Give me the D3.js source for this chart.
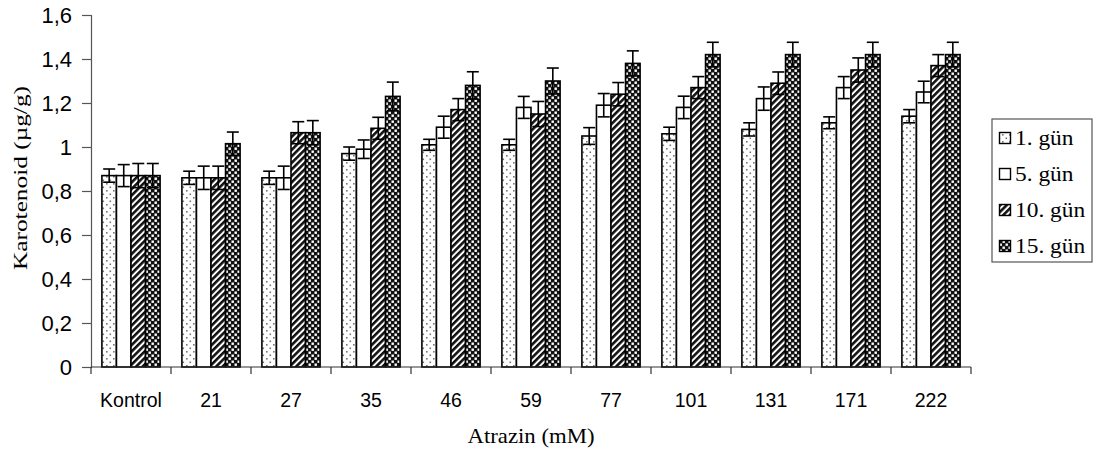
<!DOCTYPE html>
<html>
<head>
<meta charset="utf-8">
<script src="https://cdn.jsdelivr.net/npm/d3@7/dist/d3.min.js"></script>
<style>
  html, body { margin: 0; padding: 0; background: #fff; }
  svg { display: block; }
</style>
</head>
<body>
<svg id="chart" width="1103" height="462"></svg>
<script>
// Atrazin concentrations (mM)
const categories = ["Kontrol", "21", "27", "35", "46", "59", "77", "101", "131", "171", "222"];
const seriesNames = ["1. gün", "5. gün", "10. gün", "15. gün"];

// Karotenoid content (µg/g) per day
const day1  = [0.87, 0.86, 0.86, 0.97, 1.01, 1.01, 1.05, 1.06, 1.08, 1.11, 1.14];
const day5  = [0.87, 0.86, 0.86, 0.99, 1.09, 1.18, 1.19, 1.18, 1.22, 1.27, 1.25];
const day10 = [0.87, 0.86, 1.065, 1.085, 1.17, 1.15, 1.24, 1.27, 1.29, 1.35, 1.37];
const day15 = [0.87, 1.015, 1.065, 1.23, 1.28, 1.30, 1.38, 1.42, 1.42, 1.42, 1.42];

// Standard errors
const err1  = [0.03, 0.03, 0.03, 0.03, 0.025, 0.025, 0.038, 0.03, 0.03, 0.027, 0.03];
const err5  = [0.05, 0.053, 0.053, 0.042, 0.05, 0.05, 0.053, 0.051, 0.053, 0.05, 0.049];
const err10 = [0.055, 0.053, 0.05, 0.05, 0.05, 0.057, 0.053, 0.05, 0.051, 0.055, 0.05];
const err15 = [0.055, 0.053, 0.055, 0.065, 0.062, 0.059, 0.057, 0.056, 0.056, 0.056, 0.056];

const yTicks = [0, 0.2, 0.4, 0.6, 0.8, 1.0, 1.2, 1.4, 1.6];

const seriesValues = [day1, day5, day10, day15];
const seriesErrors = [err1, err5, err10, err15];
const fills = ["url(#dots)", "#ffffff", "url(#stripes)", "url(#checks)"];

const svg = d3.select("#chart");
const plot = { left: 91, right: 971, top: 15, bottom: 367 };
const sans = "'Liberation Sans', Arial, sans-serif";
const serif = "'Liberation Serif', 'Times New Roman', serif";

// Fill patterns
const defs = svg.append("defs");
const dots = defs.append("pattern").attr("id", "dots")
  .attr("patternUnits", "userSpaceOnUse").attr("width", 7).attr("height", 7);
dots.append("rect").attr("width", 7).attr("height", 7).attr("fill", "#fff");
dots.append("rect").attr("x", 1).attr("y", 1).attr("width", 1.6).attr("height", 1.6).attr("fill", "#777");
dots.append("rect").attr("x", 4.5).attr("y", 4.5).attr("width", 1.6).attr("height", 1.6).attr("fill", "#777");

const stripes = defs.append("pattern").attr("id", "stripes")
  .attr("patternUnits", "userSpaceOnUse").attr("width", 4.6).attr("height", 10)
  .attr("patternTransform", "rotate(45)");
stripes.append("rect").attr("width", 4.6).attr("height", 10).attr("fill", "#fff");
stripes.append("rect").attr("width", 2.6).attr("height", 10).attr("fill", "#111");

const checks = defs.append("pattern").attr("id", "checks")
  .attr("patternUnits", "userSpaceOnUse").attr("width", 6).attr("height", 6);
checks.append("rect").attr("width", 6).attr("height", 6).attr("fill", "#111");
checks.append("rect").attr("x", 0.5).attr("y", 0.5).attr("width", 2.4).attr("height", 2.4).attr("fill", "#fff");
checks.append("rect").attr("x", 3.5).attr("y", 3.5).attr("width", 2.4).attr("height", 2.4).attr("fill", "#fff");

// Scales
const x0 = d3.scaleBand().domain(categories).range([plot.left, plot.right]).padding(0);
const x1 = d3.scaleBand().domain(seriesNames).range([0, x0.bandwidth()])
  .paddingInner(0).paddingOuter(0.75);
const y = d3.scaleLinear().domain([0, 1.6]).range([plot.bottom, plot.top]);

// Bars
const groups = svg.append("g").selectAll("g")
  .data(categories).join("g")
  .attr("transform", d => `translate(${x0(d)},0)`);

groups.each(function(cat, ci) {
  const g = d3.select(this);
  seriesNames.forEach((s, si) => {
    const v = seriesValues[si][ci];
    g.append("rect")
      .attr("x", x1(s))
      .attr("y", y(v))
      .attr("width", x1.bandwidth())
      .attr("height", y(0) - y(v))
      .attr("fill", fills[si])
      .attr("stroke", "#000")
      .attr("stroke-width", 1.6);
  });
});

// Error bars
groups.each(function(cat, ci) {
  const g = d3.select(this);
  seriesNames.forEach((s, si) => {
    const v = seriesValues[si][ci];
    const e = seriesErrors[si][ci];
    const cx = x1(s) + x1.bandwidth() / 2;
    const cap = 6;
    g.append("line").attr("x1", cx).attr("x2", cx)
      .attr("y1", y(v - e)).attr("y2", y(v + e))
      .attr("stroke", "#000").attr("stroke-width", 1.6);
    [v - e, v + e].forEach(t => {
      g.append("line").attr("x1", cx - cap).attr("x2", cx + cap)
        .attr("y1", y(t)).attr("y2", y(t))
        .attr("stroke", "#000").attr("stroke-width", 1.6);
    });
  });
});

// Y axis
const yAxis = d3.axisLeft(y).tickValues(yTicks).tickSize(9).tickPadding(10)
  .tickFormat(d => d3.format("~g")(d).replace(".", ","));
const yg = svg.append("g").attr("transform", `translate(${plot.left},0)`).call(yAxis);
yg.select(".domain").attr("stroke", "#555").attr("stroke-width", 1.2);
yg.selectAll(".tick line").attr("stroke", "#555").attr("stroke-width", 1.2);
yg.selectAll(".tick text").attr("font-family", sans)
  .attr("font-size", 22).attr("fill", "#000");

// X axis: ticks sit on category boundaries
const boundaries = categories.map(c => x0(c)).concat([plot.right]);
const xg = svg.append("g");
xg.append("line").attr("x1", plot.left).attr("x2", plot.right)
  .attr("y1", plot.bottom).attr("y2", plot.bottom)
  .attr("stroke", "#333").attr("stroke-width", 1.2);
xg.selectAll("line.tk").data(boundaries).join("line").attr("class", "tk")
  .attr("x1", d => d).attr("x2", d => d)
  .attr("y1", plot.bottom).attr("y2", plot.bottom + 7)
  .attr("stroke", "#333").attr("stroke-width", 1.2);
xg.selectAll("text").data(categories).join("text")
  .attr("x", d => x0(d) + x0.bandwidth() / 2)
  .attr("y", 407)
  .attr("text-anchor", "middle")
  .attr("font-family", sans)
  .attr("font-size", 19.5)
  .text(d => d);

// Axis titles
svg.append("text")
  .attr("x", (plot.left + plot.right) / 2).attr("y", 443)
  .attr("text-anchor", "middle")
  .attr("font-family", serif)
  .attr("font-size", 21)
  .attr("textLength", 127).attr("lengthAdjust", "spacingAndGlyphs")
  .text("Atrazin (mM)");

svg.append("text")
  .attr("transform", "translate(27,178) rotate(-90)")
  .attr("text-anchor", "middle")
  .attr("font-family", serif)
  .attr("font-size", 18)
  .attr("textLength", 184).attr("lengthAdjust", "spacingAndGlyphs")
  .text("Karotenoid (µg/g)");

// Legend
const legend = svg.append("g");
legend.append("rect").attr("x", 992).attr("y", 119).attr("width", 100).attr("height", 143)
  .attr("fill", "#fff").attr("stroke", "#555").attr("stroke-width", 1.2);
const ly = d3.scalePoint().domain(seriesNames).range([138, 246]);
seriesNames.forEach((s, i) => {
  legend.append("rect").attr("x", 999.5).attr("y", ly(s) - 5.5)
    .attr("width", 11).attr("height", 11)
    .attr("fill", fills[i]).attr("stroke", "#000").attr("stroke-width", 1.4);
  legend.append("text")
    .attr("transform", `translate(1015,${ly(s) + 6.5}) scale(1.17,1)`)
    .attr("font-family", serif)
    .attr("font-size", 20)
    .text(s);
});
</script>
</body>
</html>
